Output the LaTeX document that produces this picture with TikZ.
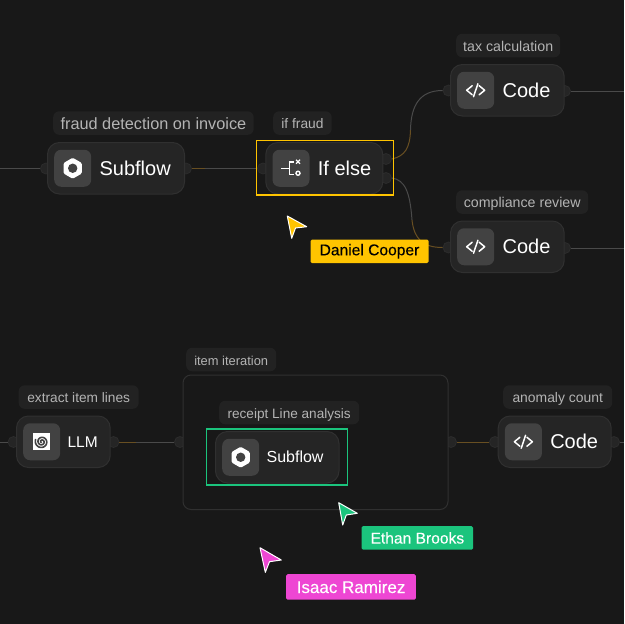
\documentclass[tikz,border=0pt]{standalone}
\usepackage{fontspec}
\setmainfont{Liberation Sans}
\newfontfamily\tagfont[FakeBold=0.25]{Liberation Sans}
\usetikzlibrary{
  positioning,
  backgrounds,
  shapes.geometric}
\definecolor{canvascol}{HTML}{181818}
\definecolor{flowcol}{HTML}{252525}
\definecolor{edgecol}{HTML}{303030}
\definecolor{portedge}{HTML}{2C2C2C}
\definecolor{tilecol}{HTML}{424242}
\definecolor{hintcol}{HTML}{222222}
\definecolor{hinttext}{HTML}{B4B4B4}
\definecolor{wirecol}{HTML}{4A4A4A}
\definecolor{hotcol}{HTML}{684F22}
\definecolor{sunny}{HTML}{FFC400}
\definecolor{minty}{HTML}{1BC47D}
\definecolor{pinky}{HTML}{EE46D3}
\tikzset{
  flownode/.style={draw=edgecol,fill=flowcol,line width=1pt,rounded corners=12pt,minimum height=51.5pt,inner sep=0pt},
  tilebox/.style={fill=tilecol,rounded corners=7pt,minimum size=37pt,inner sep=0pt},
  stepname/.style={inner sep=0pt,text=white,font=\fontsize{20}{24}\selectfont},
  smallname/.style={inner sep=0pt,text=white,font=\fontsize{#1}{20}\selectfont},
  smallname/.default=16,
  hintbox/.style={fill=hintcol,text=hinttext,rounded corners=6pt,minimum height=23.5pt,inner xsep=0pt,inner ysep=0pt,
    font=\fontsize{#1}{18}\selectfont,text height=12.5pt,text depth=1pt},
  hintbox/.default=14.2,
  portdot/.style={circle,draw=portedge,fill=flowcol,line width=.8pt,minimum size=11pt,inner sep=0pt},
  wire/.style={draw=wirecol,line width=1pt},
  hotwire/.style={draw=hotcol,line width=1pt},
  pickbox/.style={draw=#1,line width=1.3pt,fill=none,inner sep=0pt},
  tagbox/.style={fill=#1,rounded corners=1.5pt,inner sep=0pt,minimum height=23.5pt,font=\tagfont\fontsize{15.6}{18}\selectfont},
  cursor/.style={draw=white,line width=1pt,line join=round},
  hexicon/.pic={
    \fill[white,rounded corners=1.2pt] (30:10.5) -- (90:10.5) -- (150:10.5) -- (210:10.5) -- (270:10.5) -- (330:10.5) -- cycle;
    \fill[tilecol] (0,0) circle (4.7);
  },
  codeicon/.pic={
    \draw[white,line width=1.5pt,line cap=round,line join=round] (-3.5,-4.5) -- (-9,0) -- (-3.5,4.5);
    \draw[white,line width=1.5pt,line cap=round,line join=round] (3.5,-4.5) -- (9,0) -- (3.5,4.5);
    \draw[white,line width=1.5pt,line cap=round] (2.2,-6.5) -- (-2.2,6.5);
  },
  branchicon/.pic={
    \draw[white,line width=1.5pt] (-10,0) -- (-1.5,0);
    \draw[white,line width=1.5pt] (3,-6.5) -- (-1.5,-6.5) -- (-1.5,6) -- (3,6);
    \draw[white,line width=1.4pt] (5,-8.5) -- (9,-4.5) (5,-4.5) -- (9,-8.5);
    \draw[white,line width=1.4pt] (7,5) circle (2);
  },
  spiralicon/.pic={
    \fill[white] (-8.5,-8.5) rectangle (8.5,8.5);
    \draw[tilecol,line width=1.6pt,line cap=round] plot[smooth,domain=0:800,samples=50] ({\x+120}:{.6+\x/135});
  }
}

\begin{document}
\begin{tikzpicture}[x=1pt,y=-1pt]
\useasboundingbox (0,0) rectangle (624,624);

%top row
\node[flownode,minimum width=137pt,anchor=north west](subflowA) at (47,142){};
\node[tilebox,right=7pt of subflowA.west](tileA){};
\node[stepname,right=8pt of tileA](nameA){Subflow};
\pic at (tileA) {hexicon};
\node[hintbox=16.3,text height=14pt,minimum width=200.5pt,above right=7pt and 6pt of subflowA.north west](hintA){fraud detection on invoice};

\node[flownode,minimum width=117pt,anchor=north west](ifelse) at (265.3,142){};
\node[tilebox,right=7pt of ifelse.west](tileB){};
\node[stepname,right=8pt of tileB](nameB){If else};
\pic at (tileB) {branchicon};
\node[hintbox=13.8,minimum width=58.5pt,above right=7pt and 7.7pt of ifelse.north west](hintB){if fraud};
\node[pickbox=sunny,minimum width=136.7pt,minimum height=54.4pt,anchor=north west](pickA) at (256,140){};

\node[flownode,minimum width=113.7pt,anchor=north west](codeA) at (450,64){};
\node[tilebox,right=7pt of codeA.west](tileC){};
\node[stepname,right=8pt of tileC](nameC){Code};
\pic at (tileC) {codeicon};
\node[hintbox,minimum width=104pt,above right=6.5pt and 6pt of codeA.north west](hintC){tax calculation};

\node[flownode,minimum width=113.7pt,anchor=north west](codeB) at (450,220.5){};
\node[tilebox,right=7pt of codeB.west](tileD){};
\node[stepname,right=8pt of tileD](nameD){Code};
\pic at (tileD) {codeicon};
\node[hintbox,minimum width=132pt,above right=6.5pt and 6pt of codeB.north west](hintD){compliance review};

%bottom row
\node[flownode,minimum width=93.7pt,anchor=north west](llm) at (16,415.5){};
\node[tilebox,right=7pt of llm.west](tileE){};
\node[smallname=15.5,right=7pt of tileE](nameE){LLM};
\pic at (tileE) {spiralicon};
\node[hintbox=13.7,minimum width=120pt,above right=6.5pt and 2.5pt of llm.north west](hintE){extract item lines};

\node[draw=edgecol,fill=canvascol,line width=1pt,rounded corners=8pt,minimum width=265pt,minimum height=134.5pt,anchor=north west](loopbox) at (182.5,374.5){};
\node[hintbox=12.9,minimum width=90pt,above right=3pt and 3.5pt of loopbox.north west](hintF){item iteration};

\node[flownode,minimum width=123.5pt,anchor=north west](subflowB) at (215,431){};
\node[tilebox,right=7pt of subflowB.west](tileG){};
\node[smallname,right=7pt of tileG](nameG){Subflow};
\pic at (tileG) {hexicon};
\node[hintbox=13.6,minimum width=140pt,above right=6.5pt and 4pt of subflowB.north west](hintG){receipt Line analysis};
\node[pickbox=minty,minimum width=140.7pt,minimum height=56.1pt,anchor=north west](pickB) at (206,428.3){};

\node[flownode,minimum width=113pt,anchor=north west](codeC) at (497.7,415.5){};
\node[tilebox,right=7pt of codeC.west](tileH){};
\node[stepname,right=8pt of tileH](nameH){Code};
\pic at (tileH) {codeicon};
\node[hintbox=13.9,minimum width=109pt,above right=6.5pt and 5.3pt of codeC.north west](hintH){anomaly count};

%lines and ports
\begin{pgfonlayer}{background}
\fill[canvascol] (0,0) rectangle (624,624);
\coordinate (leftA) at (0,168.5);
\coordinate (leftB) at (0,442);
\coordinate (rightA) at (624,91);
\coordinate (rightB) at (624,248);
\coordinate (rightC) at (624,442);
\coordinate (bendA) at (410.5,130);
\coordinate (bendB) at (412,220);
\node[portdot](inA) at (46,168.5){};
\node[portdot](outA) at (186,168.5){};
\node[portdot](inB) at (263,168.5){};
\node[portdot](outB) at (386,159){};
\node[portdot](outC) at (386,178){};
\node[portdot](inC) at (448.5,90.5){};
\node[portdot](outD) at (565,91){};
\node[portdot](inD) at (448.5,247.5){};
\node[portdot](outE) at (565,248){};
\node[portdot](inE) at (13.5,442){};
\node[portdot](outF) at (113.5,442){};
\node[portdot](inF) at (180,442){};
\node[portdot](outG) at (451,442){};
\node[portdot](inG) at (495,442){};
\node[portdot](outH) at (614,442){};
\node[portdot](inJ) at (212,457){};
\node[portdot](outJ) at (342,457){};

\draw[wire] (leftA) -- (inA.west);
\draw[wire] (outA.east) -- (inB.west);
\draw[hotwire] (outA.east) -- ++(13,0);
\draw[hotwire] (outB.east) .. controls (405,156) and (410,148) .. (bendA);
\draw[wire] (bendA) .. controls (411,105) and (420,90.5) .. (inC.west);
\draw[wire] (outC.east) .. controls (405,180) and (410,192) .. (bendB);
\draw[hotwire] (bendB) .. controls (414,238) and (422,247.5) .. (inD.west);
\draw[wire] (outD.east) -- (rightA);
\draw[wire] (outE.east) -- (rightB);
\draw[wire] (leftB) -- (inE.west);
\draw[wire] (outF.east) -- (inF.west);
\draw[hotwire] (outF.east) -- ++(17,0);
\draw[hotwire] (outG.east) -- (inG.west);
\draw[wire] (outH.east) -- (rightC);
\end{pgfonlayer}

%cursors and name tags
\draw[cursor,fill=sunny] (287.3,216) -- (306.7,226.7) -- (295.5,228) -- (291.7,238.3) -- cycle;
\node[tagbox=sunny,minimum width=118pt,anchor=north west,text=black](tagA) at (310.3,239.3){Daniel Cooper};
\draw[cursor,fill=minty] (338.7,502.7) -- (357.3,513.3) -- (346.3,515) -- (342.7,525) -- cycle;
\node[tagbox=minty,minimum width=111.7pt,anchor=north west,text=white](tagB) at (361.3,526){Ethan Brooks};
\draw[cursor,fill=pinky] (260,547.7) -- (281.3,560) -- (269.5,561.7) -- (265.3,572.3) -- cycle;
\node[tagbox=pinky,minimum width=129.7pt,minimum height=25.5pt,anchor=north west,text=white,font=\tagfont\fontsize{17}{19}\selectfont](tagC) at (286,574){Isaac Ramirez};
\end{tikzpicture}
\end{document}
